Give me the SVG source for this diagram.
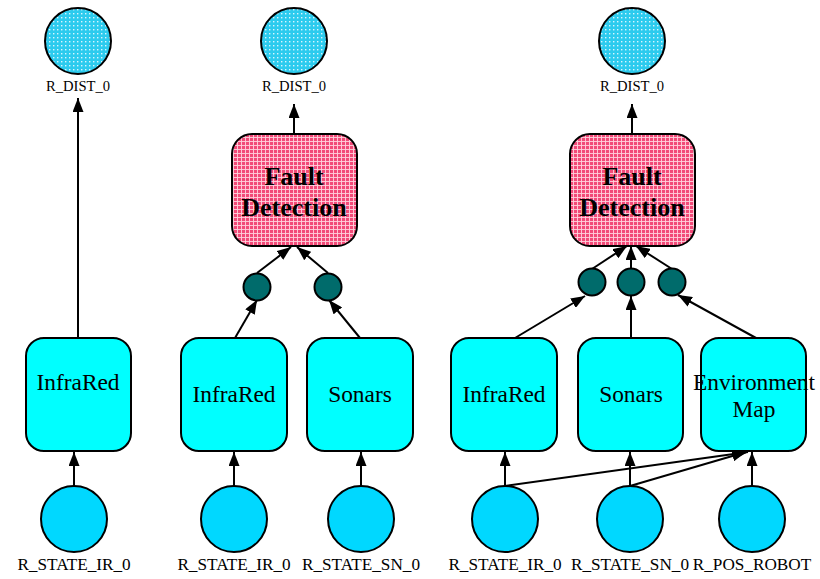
<svg xmlns="http://www.w3.org/2000/svg" width="820" height="579" viewBox="0 0 820 579">
  <style>
    .lbl { font-family: "Liberation Serif", "Times New Roman", serif; fill: #000; text-anchor: middle; }
    .small { font-size: 14.6px; }
    .port { font-size: 17.2px; }
    .mod { font-size: 23.4px; }
    .fd { font-size: 26px; font-weight: bold; }
    .box { fill: #00ffff; stroke: #000; stroke-width: 2; }
    .fault { fill: url(#hatchPink); stroke: #000; stroke-width: 2; }
    .dist { fill: url(#dotCyan); stroke: #000; stroke-width: 2; }
    .input { fill: #00d8ff; stroke: #000; stroke-width: 2; }
    .join { fill: #006b6b; stroke: #000; stroke-width: 2; }
    .edge { stroke: #000; stroke-width: 2; fill: none; marker-end: url(#arrow); }
  </style>
  <defs>
    <pattern id="dotCyan" width="4" height="4" patternUnits="userSpaceOnUse">
      <rect width="4" height="4" fill="#2ccbee"/>
      <rect x="1" y="1" width="1.4" height="1.4" fill="#d8f6ff"/>
    </pattern>
    <pattern id="hatchPink" width="4" height="4" patternUnits="userSpaceOnUse">
      <rect width="4" height="4" fill="#f24a78"/>
      <path d="M0 1.5 H4 M1.5 0 V4" stroke="#ffd0dc" stroke-width="0.9"/>
    </pattern>
    <marker id="arrow" viewBox="0 0 14 11" refX="14" refY="5.5" markerWidth="14" markerHeight="11" markerUnits="userSpaceOnUse" orient="auto">
      <path d="M0 0 L14 5.5 L0 11 Z" fill="#000"/>
    </marker>
  </defs>

  <rect width="820" height="579" fill="#fff"/>

  <!-- connectors -->
  <g id="edges">
    <!-- column 1 -->
    <line class="edge" x1="78" y1="338" x2="78" y2="98"/>
    <line class="edge" x1="74" y1="486" x2="74" y2="452"/>
    <!-- column 2 -->
    <line class="edge" x1="294" y1="134" x2="294" y2="104"/>
    <line class="edge" x1="257" y1="273" x2="291" y2="247"/>
    <line class="edge" x1="328" y1="273" x2="297" y2="247"/>
    <line class="edge" x1="235" y1="338" x2="257" y2="300"/>
    <line class="edge" x1="360" y1="338" x2="329" y2="300"/>
    <line class="edge" x1="234" y1="486" x2="234" y2="452"/>
    <line class="edge" x1="361" y1="486" x2="361" y2="452"/>
    <!-- column 3 -->
    <line class="edge" x1="632" y1="134" x2="632" y2="104"/>
    <line class="edge" x1="592" y1="269" x2="627" y2="246"/>
    <line class="edge" x1="631" y1="268" x2="631" y2="246"/>
    <line class="edge" x1="672" y1="269" x2="636" y2="246"/>
    <line class="edge" x1="515" y1="338" x2="585" y2="296"/>
    <line class="edge" x1="631" y1="338" x2="631" y2="296"/>
    <line class="edge" x1="756" y1="338" x2="678" y2="295"/>
    <line class="edge" x1="505" y1="486" x2="505" y2="452"/>
    <line class="edge" x1="630" y1="486" x2="630" y2="452"/>
    <line class="edge" x1="752" y1="486" x2="752" y2="452"/>
    <line class="edge" x1="505" y1="486" x2="748" y2="452"/>
    <line class="edge" x1="630" y1="486" x2="746" y2="452"/>
  </g>

  <!-- column 1 -->
  <g id="dist1">
    <circle class="dist" cx="78" cy="41" r="33"/>
    <text class="lbl small" x="78" y="91">R_DIST_0</text>
  </g>
  <g id="ir1">
    <rect class="box" x="26" y="338" width="105" height="113" rx="18"/>
    <text class="lbl mod" x="78" y="390">InfraRed</text>
  </g>
  <g id="stateIr1">
    <circle class="input" cx="74" cy="519" r="33"/>
    <text class="lbl port" x="74" y="570">R_STATE_IR_0</text>
  </g>

  <!-- column 2 -->
  <g id="dist2">
    <circle class="dist" cx="294" cy="41" r="33"/>
    <text class="lbl small" x="294" y="91">R_DIST_0</text>
  </g>
  <g id="fault2">
    <rect class="fault" x="232" y="134" width="125" height="112" rx="20"/>
    <text class="lbl fd" x="294" y="185">Fault</text>
    <text class="lbl fd" x="294" y="216">Detection</text>
  </g>
  <g id="join2a"><circle class="join" cx="257" cy="287" r="13.5"/></g>
  <g id="join2b"><circle class="join" cx="328" cy="287" r="13.5"/></g>
  <g id="ir2">
    <rect class="box" x="181" y="338" width="106" height="113" rx="18"/>
    <text class="lbl mod" x="234" y="402">InfraRed</text>
  </g>
  <g id="sn2">
    <rect class="box" x="307" y="338" width="106" height="113" rx="18"/>
    <text class="lbl mod" x="360" y="402">Sonars</text>
  </g>
  <g id="stateIr2">
    <circle class="input" cx="234" cy="519" r="33"/>
    <text class="lbl port" x="234" y="570">R_STATE_IR_0</text>
  </g>
  <g id="stateSn2">
    <circle class="input" cx="361" cy="519" r="33"/>
    <text class="lbl port" x="361" y="570">R_STATE_SN_0</text>
  </g>

  <!-- column 3 -->
  <g id="dist3">
    <circle class="dist" cx="632" cy="41" r="33"/>
    <text class="lbl small" x="632" y="91">R_DIST_0</text>
  </g>
  <g id="fault3">
    <rect class="fault" x="570" y="134" width="125" height="112" rx="20"/>
    <text class="lbl fd" x="632" y="185">Fault</text>
    <text class="lbl fd" x="632" y="216">Detection</text>
  </g>
  <g id="join3a"><circle class="join" cx="592" cy="282" r="13.5"/></g>
  <g id="join3b"><circle class="join" cx="631" cy="282" r="13.5"/></g>
  <g id="join3c"><circle class="join" cx="672" cy="282" r="13.5"/></g>
  <g id="ir3">
    <rect class="box" x="451" y="338" width="106" height="113" rx="18"/>
    <text class="lbl mod" x="504" y="402">InfraRed</text>
  </g>
  <g id="sn3">
    <rect class="box" x="578" y="338" width="105" height="113" rx="18"/>
    <text class="lbl mod" x="631" y="402">Sonars</text>
  </g>
  <g id="envmap3">
    <rect class="box" x="701" y="338" width="105" height="113" rx="18"/>
    <text class="lbl mod" x="754" y="390">Environment</text>
    <text class="lbl mod" x="754" y="417">Map</text>
  </g>
  <g id="stateIr3">
    <circle class="input" cx="505" cy="519" r="33"/>
    <text class="lbl port" x="505" y="570">R_STATE_IR_0</text>
  </g>
  <g id="stateSn3">
    <circle class="input" cx="630" cy="519" r="33"/>
    <text class="lbl port" x="630" y="570">R_STATE_SN_0</text>
  </g>
  <g id="posRobot3">
    <circle class="input" cx="752" cy="519" r="33"/>
    <text class="lbl port" x="752" y="570">R_POS_ROBOT</text>
  </g>
</svg>
